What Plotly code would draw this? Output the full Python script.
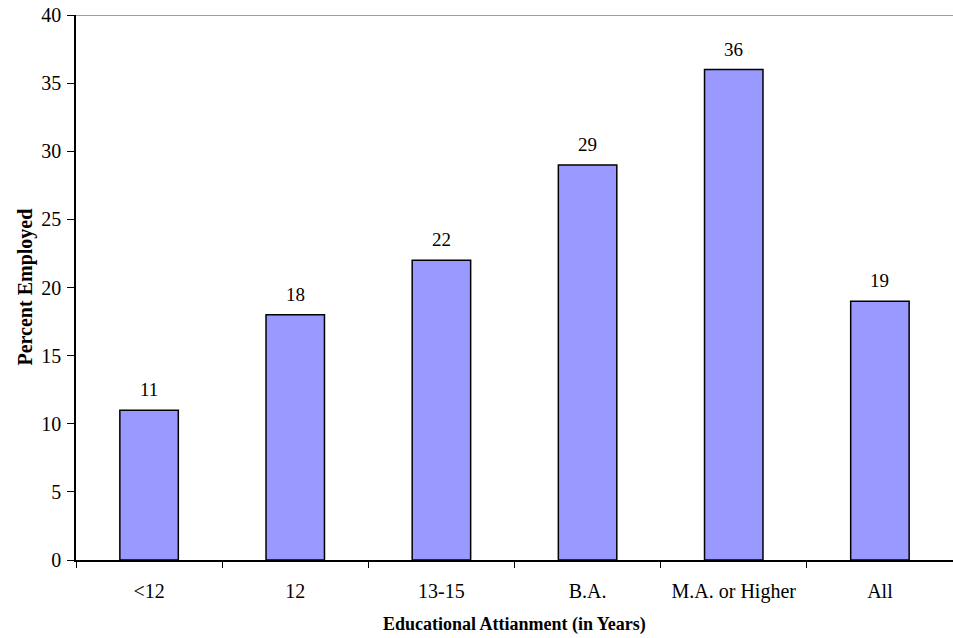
import plotly.graph_objects as go

categories = ["<12", "12", "13-15", "B.A.", "M.A. or Higher", "All"]
percent_employed = [11, 18, 22, 29, 36, 19]
y_ticks = [0, 5, 10, 15, 20, 25, 30, 35, 40]

FONT = "Liberation Serif"

positions = list(range(len(categories)))

fig = go.Figure()
fig.add_trace(go.Bar(
    x=positions,
    y=percent_employed,
    width=0.4,
    marker=dict(color="#9999FF", line=dict(color="#000000", width=1.5)),
    customdata=categories,
    hovertemplate="%{customdata}: %{y}<extra></extra>",
    textposition="none",
))

# value labels above each bar
for pos, val in zip(positions, percent_employed):
    fig.add_annotation(
        x=pos, y=val, text=str(val), showarrow=False,
        yanchor="bottom", yshift=8,
        font=dict(family=FONT, size=19, color="#000000"),
    )

# axis titles
fig.add_annotation(
    xref="paper", yref="paper", x=0.5, y=0, yshift=-64,
    xanchor="center", yanchor="middle", showarrow=False,
    text="<b>Educational Attianment (in Years)</b>",
    font=dict(family=FONT, size=18, color="#000000"),
)
fig.add_annotation(
    xref="paper", yref="paper", x=0, y=0.5, xshift=-51,
    xanchor="center", yanchor="middle", showarrow=False, textangle=-90,
    text="<b>Percent Employed</b>",
    font=dict(family=FONT, size=20, color="#000000"),
)

# top frame line of the plot area
fig.add_shape(type="line", xref="paper", yref="y", x0=0, x1=1, y0=40, y1=40,
              line=dict(color="#808080", width=1.5))

fig.update_layout(
    width=953, height=638,
    margin=dict(l=76, r=0, t=15, b=78),
    paper_bgcolor="white", plot_bgcolor="white",
    showlegend=False,
    font=dict(family=FONT, size=20, color="#000000"),
    xaxis=dict(
        range=[-0.5, len(categories) - 0.5],
        tickmode="array", tickvals=positions, ticktext=categories,
        tickangle=0,
        ticks="", ticklen=0,
        ticklabelstandoff=12,
        minor=dict(tickmode="linear", tick0=0.5, dtick=1, ticks="outside",
                   ticklen=6, tickcolor="#000000", tickwidth=1, showgrid=False),
        showline=True, linecolor="#000000", linewidth=1.5,
        showgrid=False, zeroline=False,
        tickfont=dict(family=FONT, size=20),
        automargin=False,
    ),
    yaxis=dict(
        range=[0, 40],
        tickvals=y_ticks,
        showline=True, linecolor="#000000", linewidth=1.5,
        ticks="outside", ticklen=7, tickcolor="#000000", tickwidth=1,
        ticklabelstandoff=2,
        showgrid=False, zeroline=False,
        tickfont=dict(family=FONT, size=20),
        automargin=False,
    ),
)

fig.write_html("out.html")
